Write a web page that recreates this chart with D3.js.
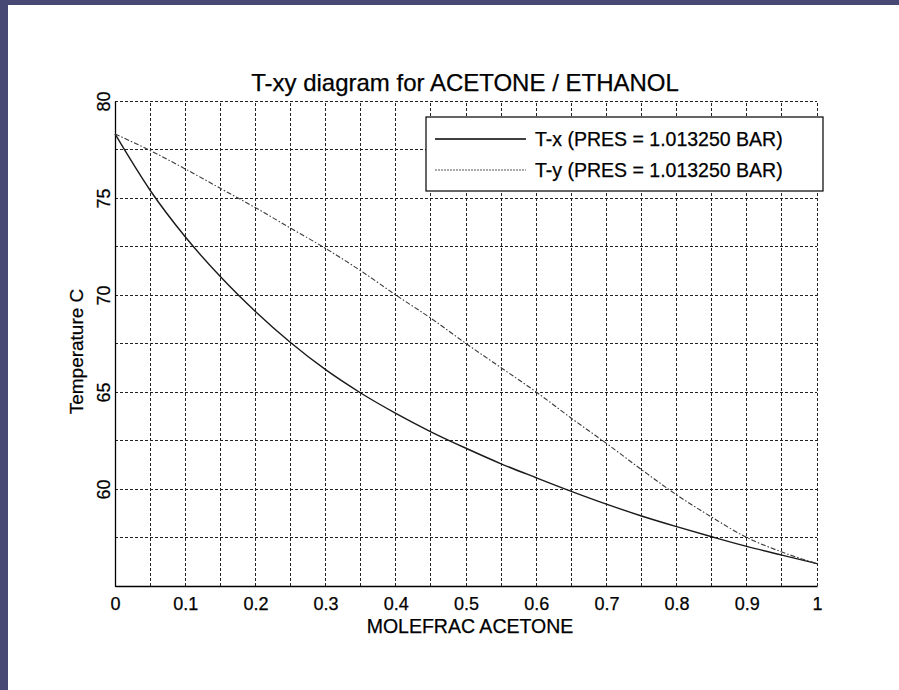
<!DOCTYPE html>
<html>
<head>
<meta charset="utf-8">
<script src="https://cdn.jsdelivr.net/npm/d3@7"></script>
<style>
  html, body { margin: 0; padding: 0; background: #4a4a78; }
  svg text { font-family: "Liberation Sans", Arial, Helvetica, sans-serif; fill: #000;
             stroke: #000; stroke-width: 0.25px; }
</style>
</head>
<body>
<svg id="chart"></svg>
<script>
// T-xy diagram, acetone / ethanol at 1.01325 bar
const moleFrac = [0, 0.05, 0.1, 0.15, 0.2, 0.25, 0.3, 0.35, 0.4, 0.45, 0.5,
                  0.55, 0.6, 0.65, 0.7, 0.75, 0.8, 0.85, 0.9, 0.95, 1];
const tempX = [78.3, 75.4, 73.0, 70.95, 69.15, 67.55, 66.15, 64.95, 63.9, 62.95, 62.1,
               61.3, 60.58, 59.88, 59.22, 58.61, 58.06, 57.54, 57.04, 56.59, 56.15];
const tempY = [78.3, 77.45, 76.5, 75.5, 74.5, 73.45, 72.4, 71.25, 70.0, 68.8, 67.5,
               66.25, 65.0, 63.65, 62.35, 61.0, 59.7, 58.55, 57.5, 56.75, 56.15];
const xTicks = [0, 0.1, 0.2, 0.3, 0.4, 0.5, 0.6, 0.7, 0.8, 0.9, 1];
const xTickLabels = ["0", "0.1", "0.2", "0.3", "0.4", "0.5", "0.6", "0.7", "0.8", "0.9", "1"];
const yTicks = [60, 65, 70, 75, 80];
const yTickLabels = ["60", "65", "70", "75", "80"];
const xGrid = d3.range(0, 21).map(i => i * 0.05);
const yGrid = d3.range(0, 11).map(i => 55 + i * 2.5);
const seriesNames = ["T-x (PRES = 1.013250 BAR)", "T-y (PRES = 1.013250 BAR)"];

const width = 899, height = 690;
const margin = { top: 101, right: 82, bottom: 104, left: 115 };

const svg = d3.select("#chart")
    .attr("width", width)
    .attr("height", height)
    .style("display", "block");

// slide background + white panel
svg.append("rect").attr("width", width).attr("height", height).attr("fill", "#484874");
svg.append("rect").attr("x", 8).attr("y", 5)
    .attr("width", width - 8).attr("height", height - 5).attr("fill", "#fff");

const x = d3.scaleLinear().domain([0, 1]).range([margin.left, width - margin.right]);
const y = d3.scaleLinear().domain([55, 80]).range([height - margin.bottom, margin.top]);

// dashed grid
svg.append("g")
    .selectAll("line")
    .data(xGrid)
    .join("line")
    .attr("x1", d => x(d)).attr("x2", d => x(d))
    .attr("y1", y(55)).attr("y2", y(80))
    .attr("stroke", "#222").attr("stroke-width", 1)
    .attr("stroke-dasharray", "3,2")
    .attr("shape-rendering", "crispEdges");
svg.append("g")
    .selectAll("line")
    .data(yGrid)
    .join("line")
    .attr("x1", x(0)).attr("x2", x(1))
    .attr("y1", d => y(d)).attr("y2", d => y(d))
    .attr("stroke", "#222").attr("stroke-width", 1)
    .attr("stroke-dasharray", "3,2")
    .attr("shape-rendering", "crispEdges");

// axes (solid left and bottom)
const xAxis = svg.append("g")
    .attr("transform", `translate(0,${y(55)})`)
    .call(d3.axisBottom(x).tickValues(xTicks).tickSize(0).tickPadding(11)
        .tickFormat((d, i) => xTickLabels[i]));
xAxis.select(".domain").attr("stroke", "#000").attr("stroke-width", 1.3);
xAxis.selectAll("text").style("font-size", "18px").attr("font-family", null);

const yAxis = svg.append("g")
    .attr("transform", `translate(${x(0)},0)`)
    .call(d3.axisLeft(y).tickValues(yTicks).tickSize(0)
        .tickFormat((d, i) => yTickLabels[i]));
yAxis.select(".domain").attr("stroke", "#000").attr("stroke-width", 1.3);
yAxis.selectAll("text")
    .attr("x", null).attr("dy", null)
    .attr("transform", "translate(-5,0) rotate(-90)")
    .attr("text-anchor", "middle")
    .style("font-size", "18px").attr("font-family", null);

// curves
const pts = arr => moleFrac.map((m, i) => [m, arr[i]]);
const line = d3.line().x(d => x(d[0])).y(d => y(d[1])).curve(d3.curveMonotoneX);
svg.append("path")
    .attr("d", line(pts(tempX)))
    .attr("fill", "none")
    .attr("stroke", "#1a1a1a").attr("stroke-width", 1.4);
svg.append("path")
    .attr("d", line(pts(tempY)))
    .attr("fill", "none")
    .attr("stroke", "#3a3a3a").attr("stroke-width", 1.1)
    .attr("stroke-dasharray", "5,2,1.5,2");

// legend
const lg = svg.append("g").attr("transform", "translate(426,117)");
lg.append("rect").attr("width", 397).attr("height", 74)
    .attr("fill", "#fff").attr("stroke", "#000").attr("stroke-width", 1.2);
seriesNames.forEach((name, i) => {
    const row = lg.append("g").attr("transform", `translate(0,${22 + i * 31})`);
    row.append("line").attr("x1", 9).attr("x2", 100)
        .attr("stroke", i === 0 ? "#000" : "#555")
        .attr("stroke-width", i === 0 ? 1.3 : 1)
        .attr("stroke-dasharray", i === 0 ? null : "2,1");
    row.append("text").attr("x", 109).attr("dy", "0.36em")
        .style("font-size", "19.5px").text(name);
});

// titles
svg.append("text")
    .attr("x", 465).attr("y", 91)
    .attr("text-anchor", "middle")
    .style("font-size", "24px")
    .text("T-xy diagram for ACETONE / ETHANOL");
svg.append("text")
    .attr("x", 470).attr("y", 633)
    .attr("text-anchor", "middle")
    .style("font-size", "19.5px")
    .text("MOLEFRAC ACETONE");
svg.append("text")
    .attr("transform", `translate(83,${(y(55) + y(80)) / 2 + 8}) rotate(-90)`)
    .attr("text-anchor", "middle")
    .style("font-size", "19px")
    .text("Temperature C");
</script>
</body>
</html>
